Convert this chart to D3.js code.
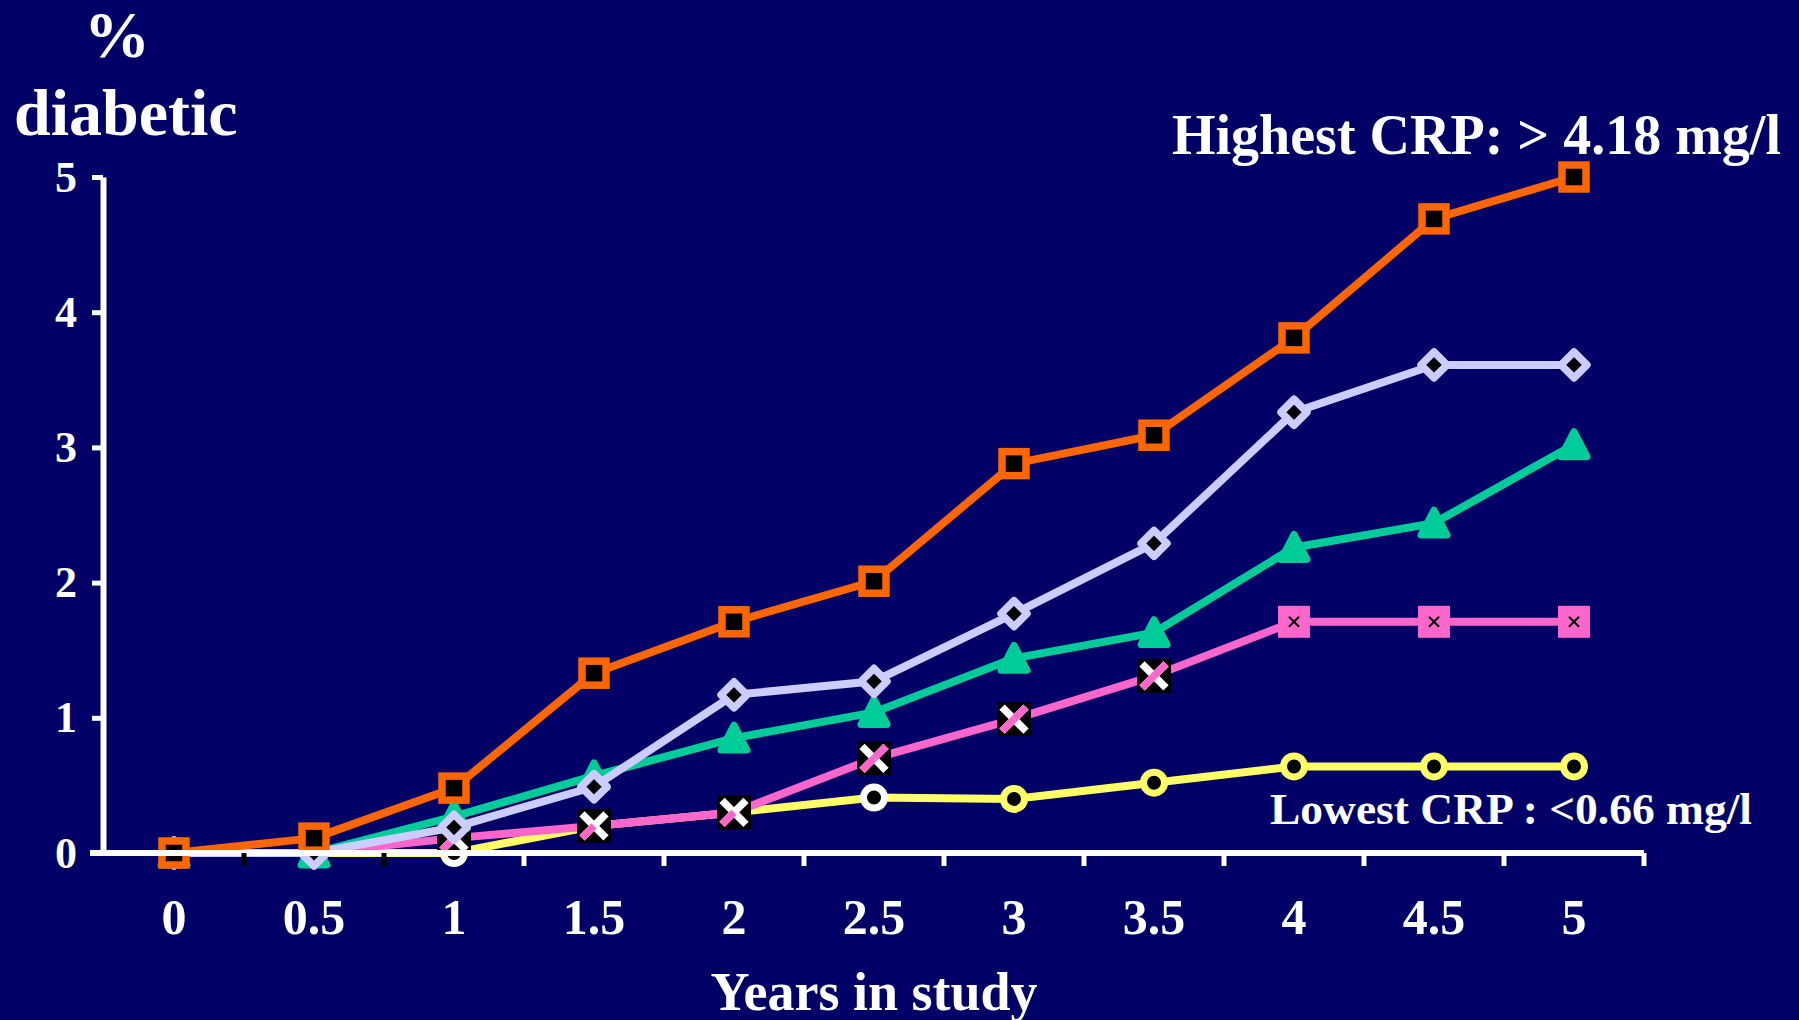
<!DOCTYPE html>
<html>
<head>
<meta charset="utf-8">
<script src="https://cdn.jsdelivr.net/npm/d3@7"></script>
<style>
  html, body { margin: 0; padding: 0; background: #000066; }
  svg { display: block; }
  text { font-family: "Liberation Serif", "Times New Roman", serif; font-weight: bold; fill: #ffffff; }
</style>
</head>
<body>
<svg id="chart" width="1799" height="1020"></svg>
<script>
// ---- data ----
const categories = ["0", "0.5", "1", "1.5", "2", "2.5", "3", "3.5", "4", "4.5", "5"];
const yTicks = [0, 1, 2, 3, 4, 5];
const highest = [0, 0.11, 0.48, 1.33, 1.71, 2.01, 2.88, 3.09, 3.81, 4.69, 5.0];
const quint4  = [0, 0, 0.19, 0.49, 1.17, 1.27, 1.77, 2.29, 3.26, 3.61, 3.61];
const quint3  = [0, 0, 0.27, 0.57, 0.85, 1.04, 1.44, 1.63, 2.26, 2.44, 3.02];
const quint2  = [0, 0, 0.11, 0.2, 0.3, 0.7, 0.99, 1.31, 1.71, 1.71, 1.71];
const lowest  = [0, 0, 0, 0.2, 0.3, 0.41, 0.4, 0.52, 0.64, 0.64, 0.64];
const labelHigh = "Highest CRP: > 4.18 mg/l";
const labelLow = "Lowest CRP : <0.66 mg/l";

// ---- setup ----
const svg = d3.select("#chart");
const W = 1799, H = 1020;
svg.append("rect").attr("width", W).attr("height", H).attr("fill", "#000066");

const x = d3.scaleBand().domain(categories).range([104, 1644]);
const y = d3.scaleLinear().domain([0, 5]).range([853, 177]);
const cx = c => x(c) + x.bandwidth() / 2;

// ---- series (drawn bottom to top) ----
const series = [
  { values: lowest,  color: "#FFFF66", marker: "circle" },
  { values: quint2,  color: "#FF66CC", marker: "xbox" },
  { values: quint3,  color: "#00CC99", marker: "triangle" },
  { values: quint4,  color: "#CCCCFF", marker: "diamond" },
  { values: highest, color: "#FF6600", marker: "square" }
];

const line = d3.line().x((d, i) => cx(categories[i])).y(d => y(d));

series.forEach(s => {
  const g = svg.append("g");
  g.append("path")
    .attr("d", line(s.values))
    .attr("fill", "none")
    .attr("stroke", s.color)
    .attr("stroke-width", 8)
    .attr("stroke-linejoin", "round");

  const pts = g.selectAll("g.pt").data(s.values).join("g")
    .attr("class", "pt")
    .attr("transform", (d, i) => `translate(${cx(categories[i])},${y(d)})`);

  if (s.marker === "square") {
    pts.append("rect").attr("x", -12).attr("y", -12).attr("width", 24).attr("height", 24)
      .attr("fill", "#000").attr("stroke", s.color).attr("stroke-width", 7.5);
  } else if (s.marker === "diamond") {
    pts.append("path").attr("d", "M0,-13L13,0L0,13L-13,0Z")
      .attr("fill", "#000").attr("stroke", s.color).attr("stroke-width", 7.5)
      .attr("stroke-linejoin", "round");
  } else if (s.marker === "triangle") {
    pts.append("path").attr("d", "M0,-13L13,12L-13,12Z")
      .attr("fill", s.color).attr("stroke", s.color).attr("stroke-width", 7)
      .attr("stroke-linejoin", "round");
  } else if (s.marker === "circle") {
    pts.append("circle").attr("r", 10.5)
      .attr("fill", "#000").attr("stroke", (d, i) => (i === 2 || i === 5) ? "#fff" : s.color)
      .attr("stroke-width", 7);
  } else if (s.marker === "xbox") {
    pts.each(function(d, i) {
      const p = d3.select(this);
      if (i >= 8) {
        p.append("rect").attr("x", -16).attr("y", -16).attr("width", 32).attr("height", 32)
          .attr("fill", s.color);
        p.append("path").attr("d", "M-5,-5L5,5M5,-5L-5,5")
          .attr("stroke", "#000").attr("stroke-width", 2);
      } else if (i >= 2) {
        p.append("rect").attr("x", -17).attr("y", -17).attr("width", 34).attr("height", 34)
          .attr("fill", "#000");
        p.append("path").attr("d", "M-12,-12L12,12M12,-12L-12,12")
          .attr("stroke", "#fff").attr("stroke-width", 7.5);
        p.append("path").attr("d", "M-12,12L0,0")
          .attr("stroke", s.color).attr("stroke-width", 7.5);
        p.append("path").attr("d", "M0,0L12,-12")
          .attr("stroke", s.color).attr("stroke-width", 7.5).attr("opacity", i >= 5 ? 1 : 0);
      }
    });
  }
});

// ---- axes ----
const yAxis = d3.axisLeft(y).tickValues(yTicks).tickSize(11).tickSizeOuter(0).tickPadding(15)
  .tickFormat(d3.format("d"));
const gy = svg.append("g").attr("transform", "translate(103,0)").call(yAxis);
gy.select(".domain").attr("stroke", "#fff").attr("stroke-width", 6);
gy.selectAll(".tick line").attr("stroke", "#fff").attr("stroke-width", 5);
gy.selectAll(".tick text").attr("fill", "#fff").style("font-size", "44px")
  .style("font-family", "'Liberation Serif', serif").style("font-weight", "bold");

const xAxis = d3.axisBottom(x).tickSize(0).tickSizeOuter(0);
const gx = svg.append("g").attr("transform", "translate(0,853)").call(xAxis);
gx.select(".domain").remove();
gx.selectAll(".tick text").attr("fill", "#fff").attr("y", 81).attr("dy", 0)
  .style("font-size", "50px").style("font-family", "'Liberation Serif', serif")
  .style("font-weight", "bold");

// x axis line
svg.append("line").attr("x1", 90).attr("x2", x.range()[1]).attr("y1", 853).attr("y2", 853)
  .attr("stroke", "#fff").attr("stroke-width", 6);
// boundary ticks
svg.append("g").selectAll("line").data(categories).join("line")
  .attr("x1", d => x(d) + x.step()).attr("x2", d => x(d) + x.step())
  .attr("y1", 853).attr("y2", 866)
  .attr("stroke", (d, i) => i < 2 ? "#000" : "#fff").attr("stroke-width", 5);

// ---- texts ----
svg.append("text").attr("x", 117).attr("y", 57).attr("text-anchor", "middle")
  .style("font-size", "66px").text("%");
svg.append("text").attr("x", 14).attr("y", 135)
  .style("font-size", "66px").text("diabetic");
svg.append("text").attr("x", 874).attr("y", 1010).attr("text-anchor", "middle")
  .style("font-size", "54px").text("Years in study");
svg.append("text").attr("x", 1172).attr("y", 154)
  .attr("textLength", 609).attr("lengthAdjust", "spacingAndGlyphs")
  .style("font-size", "57px").text(labelHigh);
svg.append("text").attr("x", 1270).attr("y", 824)
  .attr("textLength", 482).attr("lengthAdjust", "spacingAndGlyphs")
  .style("font-size", "45px").text(labelLow);
</script>
</body>
</html>
